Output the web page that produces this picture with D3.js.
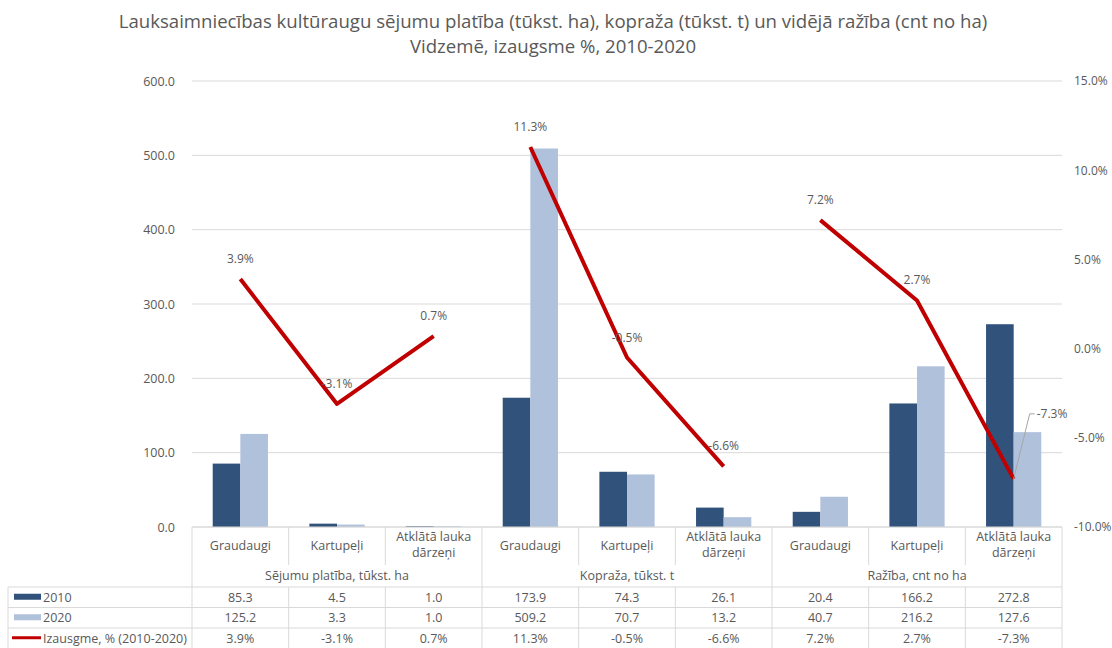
<!DOCTYPE html>
<html>
<head>
<meta charset="utf-8">
<script src="https://cdn.jsdelivr.net/npm/d3@7/dist/d3.min.js"></script>
<style>
  body { margin: 0; background: #fff; }
  svg text { font-family: "Open Sans", "Noto Sans", sans-serif; fill: #595959; }
</style>
</head>
<body>
<div id="chart"></div>
<script>
// chart data
var titleLines = [
  "Lauksaimniecības kultūraugu sējumu platība (tūkst. ha), kopraža (tūkst. t) un vidējā ražība (cnt no ha)",
  "Vidzemē, izaugsme %, 2010-2020"
];
var groups = ["Sējumu platība, tūkst. ha", "Kopraža, tūkst. t", "Ražība, cnt no ha"];
var crops = ["Graudaugi", "Kartupeļi", "Atklātā lauka dārzeņi"];
var values2010 = [85.3, 4.5, 1.0, 173.9, 74.3, 26.1, 20.4, 166.2, 272.8];
var values2020 = [125.2, 3.3, 1.0, 509.2, 70.7, 13.2, 40.7, 216.2, 127.6];
var growth = [3.9, -3.1, 0.7, 11.3, -0.5, -6.6, 7.2, 2.7, -7.3];
var leftTicks = [0, 100, 200, 300, 400, 500, 600];
var rightTicks = [-10, -5, 0, 5, 10, 15];
var seriesNames = ["2010", "2020", "Izausgme, % (2010-2020)"];

var W = 1112, H = 648;
var c2010 = "#30527b", c2020 = "#b0c1dc", cLine = "#c00000", grid = "#d9d9d9";

var svg = d3.select("#chart").append("svg")
    .attr("width", W)
    .attr("height", H);

var plot = { left: 192, right: 1062, top: 81, bottom: 527 };

// title
svg.append("g").selectAll("text")
    .data(titleLines)
    .enter().append("text")
    .attr("x", 553)
    .attr("y", function (d, i) { return 28 + i * 25; })
    .attr("text-anchor", "middle")
    .style("font-size", "18.6px")
    .text(function (d) { return d; });

// categories
var cats = [];
groups.forEach(function (g, gi) {
  crops.forEach(function (c, ci) { cats.push({ group: gi, crop: c, i: gi * 3 + ci }); });
});

var x = d3.scaleBand()
    .domain(d3.range(cats.length))
    .range([plot.left, plot.right])
    .padding(0);
var xs = d3.scaleBand()
    .domain(["2010", "2020"])
    .range([0, x.bandwidth()])
    .paddingInner(0)
    .paddingOuter(0.75);
var y = d3.scaleLinear().domain([0, 600]).range([plot.bottom, plot.top]);
var y2 = d3.scaleLinear().domain([-10, 15]).range([plot.bottom, plot.top]);

// gridlines
svg.append("g").selectAll("line")
    .data(leftTicks)
    .enter().append("line")
    .attr("x1", plot.left).attr("x2", plot.right)
    .attr("y1", function (d) { return y(d); })
    .attr("y2", function (d) { return y(d); })
    .attr("stroke", grid)
    .attr("stroke-width", 1);

// left axis
var leftAxis = svg.append("g")
    .attr("transform", "translate(" + (plot.left - 14) + ",0)")
    .call(d3.axisLeft(y).tickValues(leftTicks).tickSize(0).tickFormat(d3.format(".1f")));
leftAxis.select(".domain").remove();
leftAxis.selectAll("text").style("font-size", "12.5px").attr("fill", "#595959");

// right axis
var rightAxis = svg.append("g")
    .attr("transform", "translate(" + (plot.right + 9) + ",0)")
    .call(d3.axisRight(y2).tickValues(rightTicks).tickSize(0)
      .tickFormat(function (d) { return d.toFixed(1) + "%"; }));
rightAxis.select(".domain").remove();
rightAxis.selectAll("text").style("font-size", "12px").attr("fill", "#595959");

// bars
var bars = svg.append("g");
bars.selectAll("rect.b2010")
    .data(values2010)
    .enter().append("rect")
    .attr("class", "b2010")
    .attr("x", function (d, i) { return x(i) + xs("2010"); })
    .attr("y", function (d) { return y(d); })
    .attr("width", xs.bandwidth())
    .attr("height", function (d) { return y(0) - y(d); })
    .attr("fill", c2010);
bars.selectAll("rect.b2020")
    .data(values2020)
    .enter().append("rect")
    .attr("class", "b2020")
    .attr("x", function (d, i) { return x(i) + xs("2020"); })
    .attr("y", function (d) { return y(d); })
    .attr("width", xs.bandwidth())
    .attr("height", function (d) { return y(0) - y(d); })
    .attr("fill", c2020);

// growth line, one segment per group
var line = d3.line()
    .x(function (d) { return x(d.i) + x.bandwidth() / 2; })
    .y(function (d) { return y2(d.v); });
var pts = growth.map(function (v, i) { return { v: v, i: i }; });
svg.append("g").selectAll("path")
    .data(groups.map(function (g, gi) { return pts.slice(gi * 3, gi * 3 + 3); }))
    .enter().append("path")
    .attr("d", line)
    .attr("fill", "none")
    .attr("stroke", cLine)
    .attr("stroke-width", 4)
    .attr("stroke-linejoin", "round");

// line labels
var labels = svg.append("g");
pts.forEach(function (p) {
  var px = x(p.i) + x.bandwidth() / 2, py = y2(p.v);
  var txt = p.v.toFixed(1) + "%";
  if (p.i === pts.length - 1) {
    labels.append("polyline")
        .attr("points", [[px, py], [px + 16, py - 65], [px + 21, py - 65]].join(" "))
        .attr("fill", "none")
        .attr("stroke", "#a6a6a6")
        .attr("stroke-width", 1);
    labels.append("text")
        .attr("x", px + 23).attr("y", py - 61)
        .style("font-size", "12px").attr("fill", "#404040")
        .text(txt);
  } else {
    labels.append("text")
        .attr("x", px).attr("y", py - 16)
        .attr("text-anchor", "middle")
        .style("font-size", "12px").attr("fill", "#404040")
        .text(txt);
  }
});

// data table under the plot
var table = svg.append("g");
var rowTop = 587, rowH = 20.5, legendLeft = 8;
var hline = function (x1, x2, yy) {
  table.append("line").attr("x1", x1).attr("x2", x2).attr("y1", yy).attr("y2", yy)
      .attr("stroke", grid).attr("stroke-width", 1);
};
var vline = function (xx, y1, yy2) {
  table.append("line").attr("x1", xx).attr("x2", xx).attr("y1", y1).attr("y2", yy2)
      .attr("stroke", grid).attr("stroke-width", 1);
};

// header: crop names
table.selectAll("text.crop")
    .data(cats)
    .enter().append("text")
    .attr("class", "crop")
    .attr("x", function (d) { return x(d.i) + x.bandwidth() / 2; })
    .attr("y", 550)
    .attr("text-anchor", "middle")
    .style("font-size", "12.5px")
    .each(function (d) {
      var words = d.crop === "Atklātā lauka dārzeņi" ? ["Atklātā lauka", "dārzeņi"] : [d.crop];
      var t = d3.select(this);
      words.forEach(function (w, wi) {
        t.append("tspan")
            .attr("x", x(d.i) + x.bandwidth() / 2)
            .attr("y", words.length > 1 ? 541 + wi * 16 : 550)
            .text(w);
      });
    });

// header: group names
table.selectAll("text.group")
    .data(groups)
    .enter().append("text")
    .attr("class", "group")
    .attr("x", function (d, gi) { return (x(gi * 3) + x(gi * 3 + 2) + x.bandwidth()) / 2; })
    .attr("y", 580)
    .attr("text-anchor", "middle")
    .style("font-size", "12.5px")
    .text(function (d) { return d; });

// header lines
vline(plot.left, plot.bottom, rowTop);
d3.range(cats.length).forEach(function (i) {
  if (i % 3 !== 0) vline(x(i), plot.bottom, 565);
});
groups.forEach(function (g, gi) { vline(x(gi * 3 + 2) + x.bandwidth(), plot.bottom, rowTop); });
hline(plot.left, plot.right, plot.bottom);

// rows
var rows = [values2010, values2020, growth];
rows.forEach(function (vals, r) {
  var top = rowTop + r * rowH;
  hline(legendLeft, plot.right, top);
  var cy = top + rowH / 2 + 4.5;
  if (r < 2) {
    table.append("rect")
        .attr("x", 14).attr("y", cy - 8)
        .attr("width", 27).attr("height", 6)
        .attr("fill", r === 0 ? c2010 : c2020);
  } else {
    table.append("line")
        .attr("x1", 12).attr("x2", 41)
        .attr("y1", cy - 5).attr("y2", cy - 5)
        .attr("stroke", cLine).attr("stroke-width", 3);
  }
  table.append("text")
      .attr("x", 43).attr("y", cy)
      .style("font-size", "12.5px")
      .text(seriesNames[r]);
  table.selectAll(null)
      .data(vals)
      .enter().append("text")
      .attr("x", function (d, i) { return x(i) + x.bandwidth() / 2; })
      .attr("y", cy)
      .attr("text-anchor", "middle")
      .style("font-size", "12.5px")
      .text(function (d) { return r < 2 ? d.toFixed(1) : d.toFixed(1) + "%"; });
});
hline(legendLeft, plot.right, rowTop + 3 * rowH);
vline(legendLeft, rowTop, rowTop + 3 * rowH);
d3.range(cats.length + 1).forEach(function (i) {
  vline(plot.left + i * x.bandwidth(), rowTop, rowTop + 3 * rowH);
});
</script>
</body>
</html>
